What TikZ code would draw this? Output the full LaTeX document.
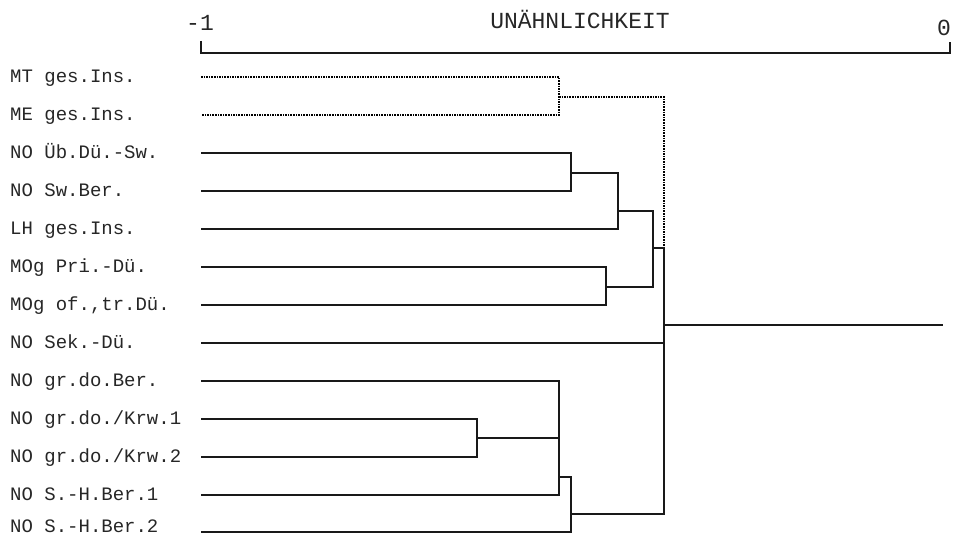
\documentclass[tikz,border=0pt]{standalone}
\usepackage{fontspec}
\setmonofont{Liberation Mono}
\usetikzlibrary{calc}

\begin{document}
\begin{tikzpicture}[
        x=1pt, y=-1pt,
        leaf/.style={anchor=base west, inner sep=0pt, font=\ttfamily\fontsize{19}{19}\selectfont, text=black!85},
        head/.style={anchor=base, inner sep=0pt, font=\ttfamily\fontsize{23}{23}\selectfont, text=black!85},
        link/.style={draw, line width=1.6pt, black!90},
        dotlink/.style={draw, line width=1.6pt, densely dotted, black}
    ]
        \useasboundingbox (0,0) rectangle (953,535);

        % scale
        \coordinate (ax0) at (201,53);
        \coordinate (ax1) at (950,53);
        \node [head] (lo) at (200,31) {-1};
        \node [head] (title) at (580,29) {UNÄHNLICHKEIT};
        \node [head] (hi) at (944,36) {0};
        \path [link, line width=1.2pt] ($(ax0)+(0,-12)$) -- (ax0) -- (ax1) -- ($(ax1)+(0,-11)$);

        % leaves
        \foreach \y [count=\i] in {77,115,153,191,229,267,305,343,381,419,457,495,532}
            \coordinate (s\i) at (201,\y);
        \node [leaf] (mt) at (10,82.5) {MT ges.Ins.};
        \node [leaf] (me) at (10,120.5) {ME ges.Ins.};
        \node [leaf] (uebdue) at (10,158.5) {NO Üb.Dü.-Sw.};
        \node [leaf] (swber) at (10,196.5) {NO Sw.Ber.};
        \node [leaf] (lh) at (10,234.5) {LH ges.Ins.};
        \node [leaf] (mogpri) at (10,272.5) {MOg Pri.-Dü.};
        \node [leaf] (mogof) at (10,310.5) {MOg of.,tr.Dü.};
        \node [leaf] (sekdue) at (10,348.5) {NO Sek.-Dü.};
        \node [leaf] (grdober) at (10,386.5) {NO gr.do.Ber.};
        \node [leaf] (krw1) at (10,424.5) {NO gr.do./Krw.1};
        \node [leaf] (krw2) at (10,462.5) {NO gr.do./Krw.2};
        \node [leaf] (shber1) at (10,500.5) {NO S.-H.Ber.1};
        \node [leaf] (shber2) at (10,532) {NO S.-H.Ber.2};

        % fusion points
        \coordinate (jA) at (559,97);
        \coordinate (jB) at (571,173);
        \coordinate (jC) at (618,211);
        \coordinate (jD) at (606,287);
        \coordinate (jE) at (653,248);
        \coordinate (jF) at (477,438);
        \coordinate (jG) at (559,477);
        \coordinate (jH) at (571,514);
        \coordinate (root) at (664,325);
        \coordinate (stem) at (943,325);

        % dendrogram
        \path [dotlink] (s1) -| (jA) |- (s2);
        \path [dotlink] (jA) -| (root |- jE);
        \path [link] (s3) -| (jB) |- (s4);
        \path [link] (jB) -| (jC) |- (s5);
        \path [link] (s6) -| (jD) |- (s7);
        \path [link] (jC) -| (jE) |- (jD);
        \path [link] (s10) -| (jF) |- (s11);
        \path [link] (s9) -| (jG) |- (s12);
        \path [link] (jF) -- (jF -| jG);
        \path [link] (jG) -| (jH) |- (s13);
        \path [link] (jE) -- (root |- jE) -- (root |- jH) -- (jH);
        \path [link] (s8) -- (root |- s8);
        \path [link] (root) -- (stem);
    \end{tikzpicture}
\end{document}
